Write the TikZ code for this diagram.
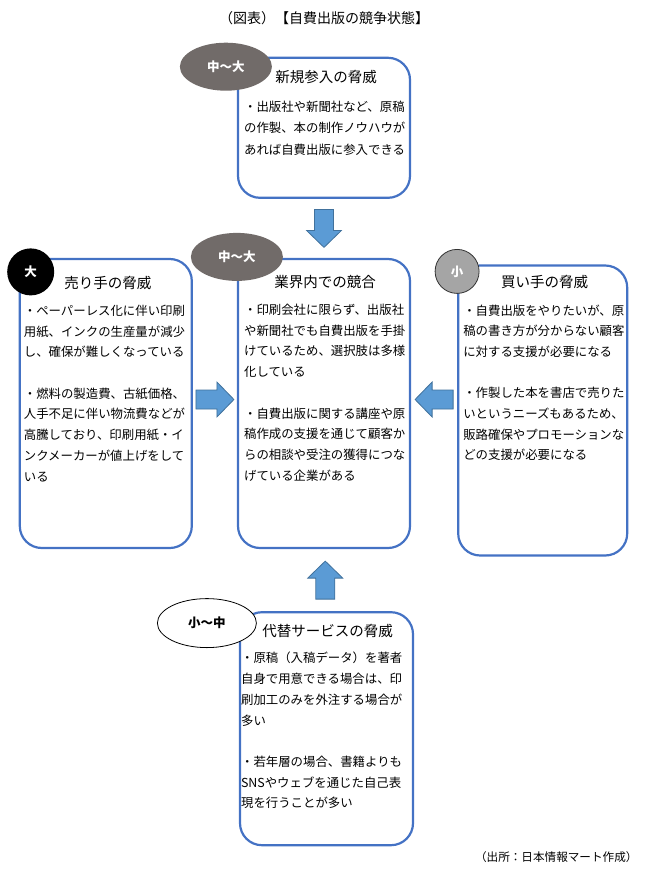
\documentclass[tikz,border=0pt]{standalone}
\usepackage{fontspec}
\setmainfont{Noto Sans CJK JP}
\usepackage{tikz}
\usetikzlibrary{positioning,calc,shapes.geometric}
\definecolor{boxBlue}{HTML}{4472C4}
\definecolor{arrowBlue}{HTML}{5B9BD5}
\definecolor{arrowEdge}{HTML}{41719C}
\definecolor{gradeDark}{HTML}{716B69}
\definecolor{gradeGray}{HTML}{A5A5A5}

\tikzset{
  blockarrow/.pic={
    \draw[draw=arrowEdge,fill=arrowBlue,line width=0.8bp]
      (-19,-9.5) -- (2,-9.5) -- (2,-17.5) -- (19,0) -- (2,17.5) -- (2,9.5) -- (-19,9.5) -- cycle;
  }
}

\begin{document}
\begin{tikzpicture}[x=1bp,y=-1bp,
      threatbox/.style={draw=boxBlue,line width=2.2bp,rounded corners=22bp,minimum width=172bp,inner sep=0pt},
      boxtitle/.style={font=\fontsize{14.5bp}{17bp}\selectfont,inner sep=0pt},
      boxbody/.style={font=\fontsize{12.4bp}{20.7bp}\selectfont,align=left,anchor=north west,inner sep=0pt},
      grade/.style={inner sep=0pt,font=\fontsize{12.5bp}{15bp}\selectfont\bfseries},
      gradedark/.style={grade,ellipse,fill=gradeDark,text=white,minimum width=92bp,minimum height=48bp},
      gradewhite/.style={grade,ellipse,draw=black,line width=0.8bp,fill=white,minimum width=99bp,minimum height=49bp},
      gradeblack/.style={grade,circle,fill=black,text=white,minimum size=47bp},
      gradegray/.style={grade,circle,draw=black!80,line width=0.8bp,fill=gradeGray,text=white,minimum size=44bp}]
    \useasboundingbox (0,0) rectangle (650,876);

    \node[font=\fontsize{14bp}{17bp}\selectfont] (heading) at (324,18) {（図表）【自費出版の競争状態】};

    % five forces
    \node[threatbox,minimum height=289bp] (rivalry) at (324,403.5) {};
    \node[threatbox,minimum height=140bp,above=59bp of rivalry] (newent) {};
    \node[threatbox,minimum height=289bp,left=44bp of rivalry] (seller) {};
    \node[threatbox,minimum width=169bp,minimum height=290bp,right=46bp of rivalry,yshift=-7bp] (buyer) {};
    \node[threatbox,minimum width=173bp,minimum height=233bp,below=62bp of rivalry,xshift=2.5bp] (subst) {};

    \node[boxtitle] (newenttitle) at ($(newent.north)+(2,20)$) {新規参入の脅威};
    \node[boxtitle] (rivalrytitle) at ($(rivalry.north)+(1,24)$) {業界内での競合};
    \node[boxtitle] (sellertitle) at ($(seller.north)+(2,25)$) {売り手の脅威};
    \node[boxtitle] (buyertitle) at ($(buyer.north)+(2,18)$) {買い手の脅威};
    \node[boxtitle] (substtitle) at ($(subst.north)+(1,20)$) {代替サービスの脅威};

    \node[boxbody,font=\fontsize{12.4bp}{21.5bp}\selectfont] (newentbody) at ($(newent.north west)+(7,44)$)
      {・出版社や新聞社など、原稿\\の作製、本の制作ノウハウが\\あれば自費出版に参入できる};
    \node[boxbody] (rivalrybody) at ($(rivalry.north west)+(7,46)$)
      {・印刷会社に限らず、出版社\\や新聞社でも自費出版を手掛\\けているため、選択肢は多様\\化している\\[20.7bp]
       ・自費出版に関する講座や原\\稿作成の支援を通じて顧客か\\らの相談や受注の獲得につな\\げている企業がある};
    \node[boxbody] (sellerbody) at ($(seller.north west)+(5,47)$)
      {・ペーパーレス化に伴い印刷\\用紙、インクの生産量が減少\\し、確保が難しくなっている\\[20.7bp]
       ・燃料の製造費、古紙価格、\\人手不足に伴い物流費などが\\高騰しており、印刷用紙・イ\\ンクメーカーが値上げをして\\いる};
    \node[boxbody] (buyerbody) at ($(buyer.north west)+(6,40)$)
      {・自費出版をやりたいが、原\\稿の書き方が分からない顧客\\に対する支援が必要になる\\[20.7bp]
       ・作製した本を書店で売りた\\いというニーズもあるため、\\販路確保やプロモーションな\\どの支援が必要になる};
    \node[boxbody] (substbody) at ($(subst.north west)+(2,41)$)
      {・原稿（入稿データ）を著者\\自身で用意できる場合は、印\\刷加工のみを外注する場合が\\多い\\[20.7bp]
       ・若年層の場合、書籍よりも\\SNSやウェブを通じた自己表\\現を行うことが多い};

    % grades
    \node[gradedark] (newentgrade) at ($(newent.north west)+(-11,10)$) {中～大};
    \node[gradedark] (rivalrygrade) at ($(rivalry.north west)+(0,-1)$) {中～大};
    \node[gradeblack] (sellergrade) at ($(seller.north west)+(12,14)$) {大};
    \node[gradegray] (buyergrade) at ($(buyer.north west)+(0,7)$) {小};
    \node[gradewhite] (substgrade) at ($(subst.north west)+(-32,12)$) {小～中};

    % arrows into rivalry
    \pic[rotate=-90] at ($(newent.south)!0.5!(rivalry.north)$) {blockarrow};
    \pic at ($(seller.east)!0.5!(rivalry.west)+(0,-4)$) {blockarrow};
    \pic[rotate=180] at ($(rivalry.east)!0.5!(rivalry.east -| buyer.west)+(0,-4)$) {blockarrow};
    \pic[rotate=90] at ($(subst.north)!0.5!(rivalry.south)$) {blockarrow};

    \node[font=\fontsize{11.6bp}{14bp}\selectfont,anchor=east] (source) at (641,857) {（出所：日本情報マート作成）};
  \end{tikzpicture}
\end{document}
